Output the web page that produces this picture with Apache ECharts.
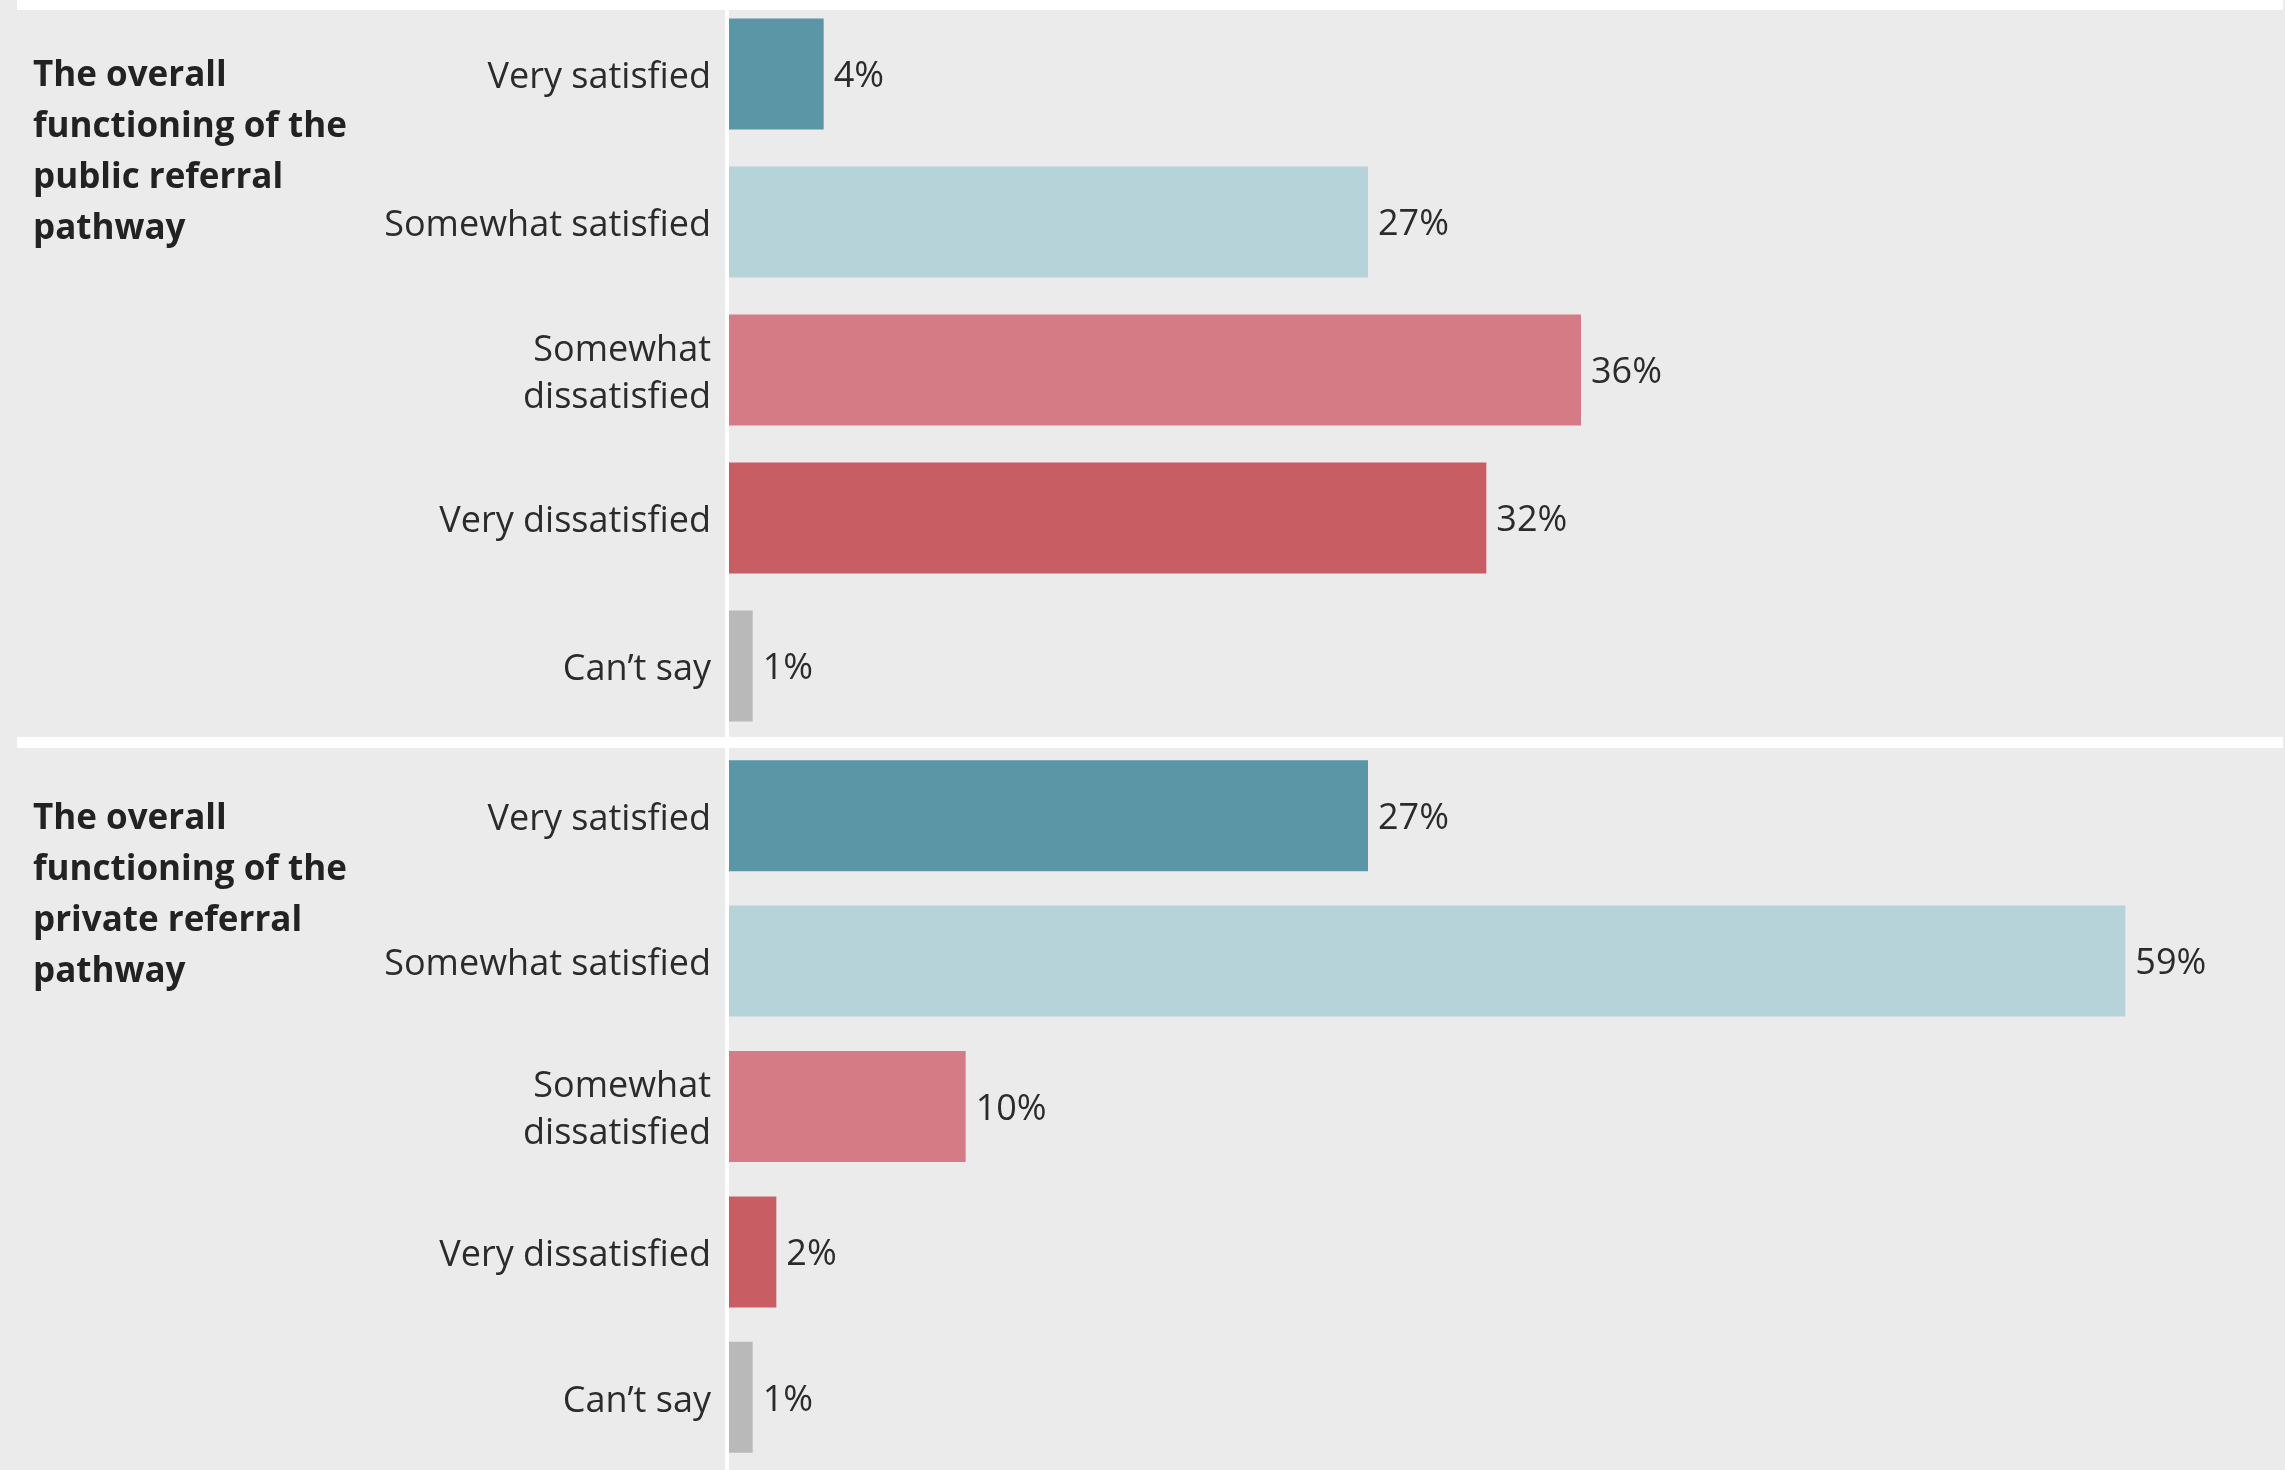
<!DOCTYPE html>
<html>
<head>
<meta charset="utf-8">
<script src="https://cdn.jsdelivr.net/npm/echarts@6/dist/echarts.min.js"></script>
<style>
  html, body { margin: 0; padding: 0; background: #ebebeb; }
  #chart { width: 2285px; height: 1470px; }
</style>
</head>
<body>
<div id="chart"></div>
<script>
// Satisfaction response categories (top to bottom)
const categories = ['Very satisfied', 'Somewhat satisfied', 'Somewhat\ndissatisfied', 'Very dissatisfied', 'Can\u2019t say'];
// Share of respondents (%) for each referral pathway
const publicValues = [4, 27, 36, 32, 1];
const privateValues = [27, 59, 10, 2, 1];
// Panel headings
const panelTitles = [
  'The overall\nfunctioning of the\npublic referral\npathway',
  'The overall\nfunctioning of the\nprivate referral\npathway'
];
const categoryColors = ['#5b96a7', '#b5d3d9', '#d47b86', '#c85e64', '#b9b9b9'];

const FONT = '"Open Sans"';
const BAND = 148;
const PANEL_H = BAND * categories.length;
const panelTops = [0, 743];

const chart = echarts.init(document.getElementById('chart'), null, { renderer: 'canvas' });

function seriesData(values) {
  return values.map((v, i) => ({ value: v, itemStyle: { color: categoryColors[i] } }));
}

// Category labels: lines carry a little top padding so the block sits slightly lower
const labelText = { fontFamily: FONT, fontSize: 36, lineHeight: 47, color: '#2b2b2b', align: 'right' };
function formatCategory(value) {
  return value.split('\n').map((line, k) => (k === 0 ? '{first|' : '{rest|') + line + '}').join('\n');
}

const grids = panelTops.map(t => ({ left: 729, width: 1420, top: t, height: PANEL_H, containLabel: false }));

const option = {
  backgroundColor: '#ebebeb',
  animation: false,
  title: panelTitles.map((txt, i) => ({
    text: txt,
    left: 28,
    top: panelTops[i] + 46,
    textStyle: { fontFamily: FONT, fontWeight: 'bold', fontSize: 35, lineHeight: 51, color: '#222' }
  })),
  grid: grids,
  xAxis: grids.map((g, i) => ({
    type: 'value', gridIndex: i, min: 0, max: 60,
    show: false, splitLine: { show: false }
  })),
  yAxis: grids.map((g, i) => ({
    type: 'category', gridIndex: i, data: categories, inverse: true,
    axisLine: { show: false }, axisTick: { show: false }, splitLine: { show: false },
    axisLabel: Object.assign({
      margin: 18,
      formatter: formatCategory,
      rich: {
        first: Object.assign({ padding: [8, 0, 0, 0] }, labelText),
        rest: Object.assign({ padding: [8, 0, 0, 0] }, labelText)
      }
    }, labelText)
  })),
  graphic: [
    { type: 'rect', z: 100, silent: true, shape: { x: 17, y: 0, width: 2266, height: 10 }, style: { fill: '#ffffff' } },
    { type: 'rect', z: 100, silent: true, shape: { x: 17, y: 737, width: 2266, height: 11 }, style: { fill: '#ffffff' } },
    { type: 'rect', z: 100, silent: true, shape: { x: 725, y: 0, width: 4, height: 1470 }, style: { fill: '#ffffff' } }
  ],
  series: [publicValues, privateValues].map((vals, i) => ({
    type: 'bar', xAxisIndex: i, yAxisIndex: i,
    data: seriesData(vals),
    barWidth: 111,
    label: {
      show: true, position: 'right', distance: 10, offset: [0, 3], formatter: '{c}%',
      fontFamily: FONT, fontSize: 36, color: '#2b2b2b'
    }
  }))
};

chart.setOption(option);
</script>
</body>
</html>
